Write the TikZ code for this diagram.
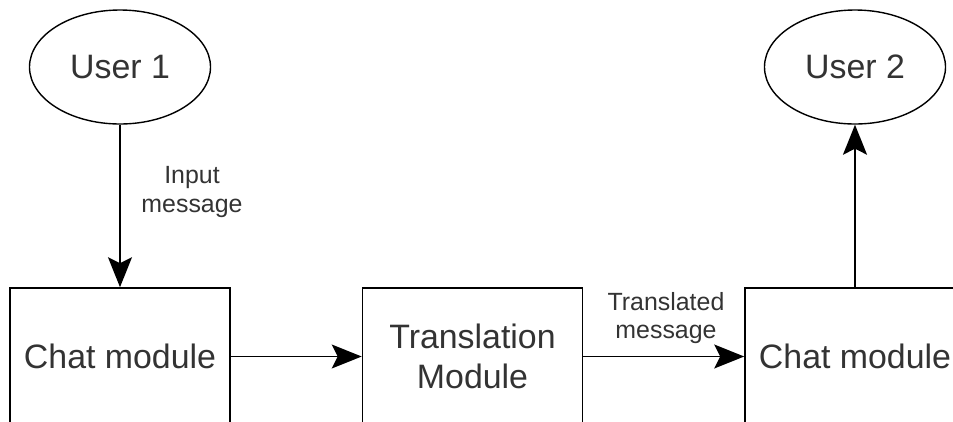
\documentclass[tikz,border=0pt]{standalone}
\usepackage{fontspec}
\setmainfont{Liberation Sans}
\usetikzlibrary{arrows.meta,shapes.geometric}
\definecolor{txt}{HTML}{333333}
\tikzset{
  user/.style={ellipse, draw, line width=1.4bp, minimum width=181bp, minimum height=114bp,
    inner sep=0pt, text=txt, font=\fontsize{34}{40}\selectfont},
  module/.style={rectangle, draw, line width=1.6bp, minimum width=220bp, minimum height=137bp,
    inner sep=0pt, text=txt, align=center, font=\fontsize{34}{40}\selectfont},
  lbl/.style={text=txt, align=center, inner sep=0pt, font=\fontsize{25}{29}\selectfont},
  conn/.style={line width=1.6bp, -{Stealth[length=30bp, width=24bp, inset=6bp]}}
}
\begin{document}
\begin{tikzpicture}[x=1bp, y=-1bp]
  \useasboundingbox (0,0) rectangle (953,421);
  \clip (0,0) rectangle (953,421);
  % users
  \node[user] (u1) at (120,67) {User 1};
  \node[user] (u2) at (855,67) {User 2};
  % modules
  \node[module] (c1) at (120,356.5) {Chat module};
  \node[module] (tm) at (472.5,356.5) {Translation\\Module};
  \node[module] (c2) at (855,356.5) {Chat module};
  % flow
  \draw[conn] (u1) -- (c1);
  \draw[conn] (c1) -- (tm);
  \draw[conn] (tm) -- (c2);
  \draw[conn] (c2) -- (u2);
  % labels
  \node[lbl] (l1) at (192,192) {Input\\message};
  \node[lbl] (l2) at (666,318) {Translated\\message};
\end{tikzpicture}
\end{document}
